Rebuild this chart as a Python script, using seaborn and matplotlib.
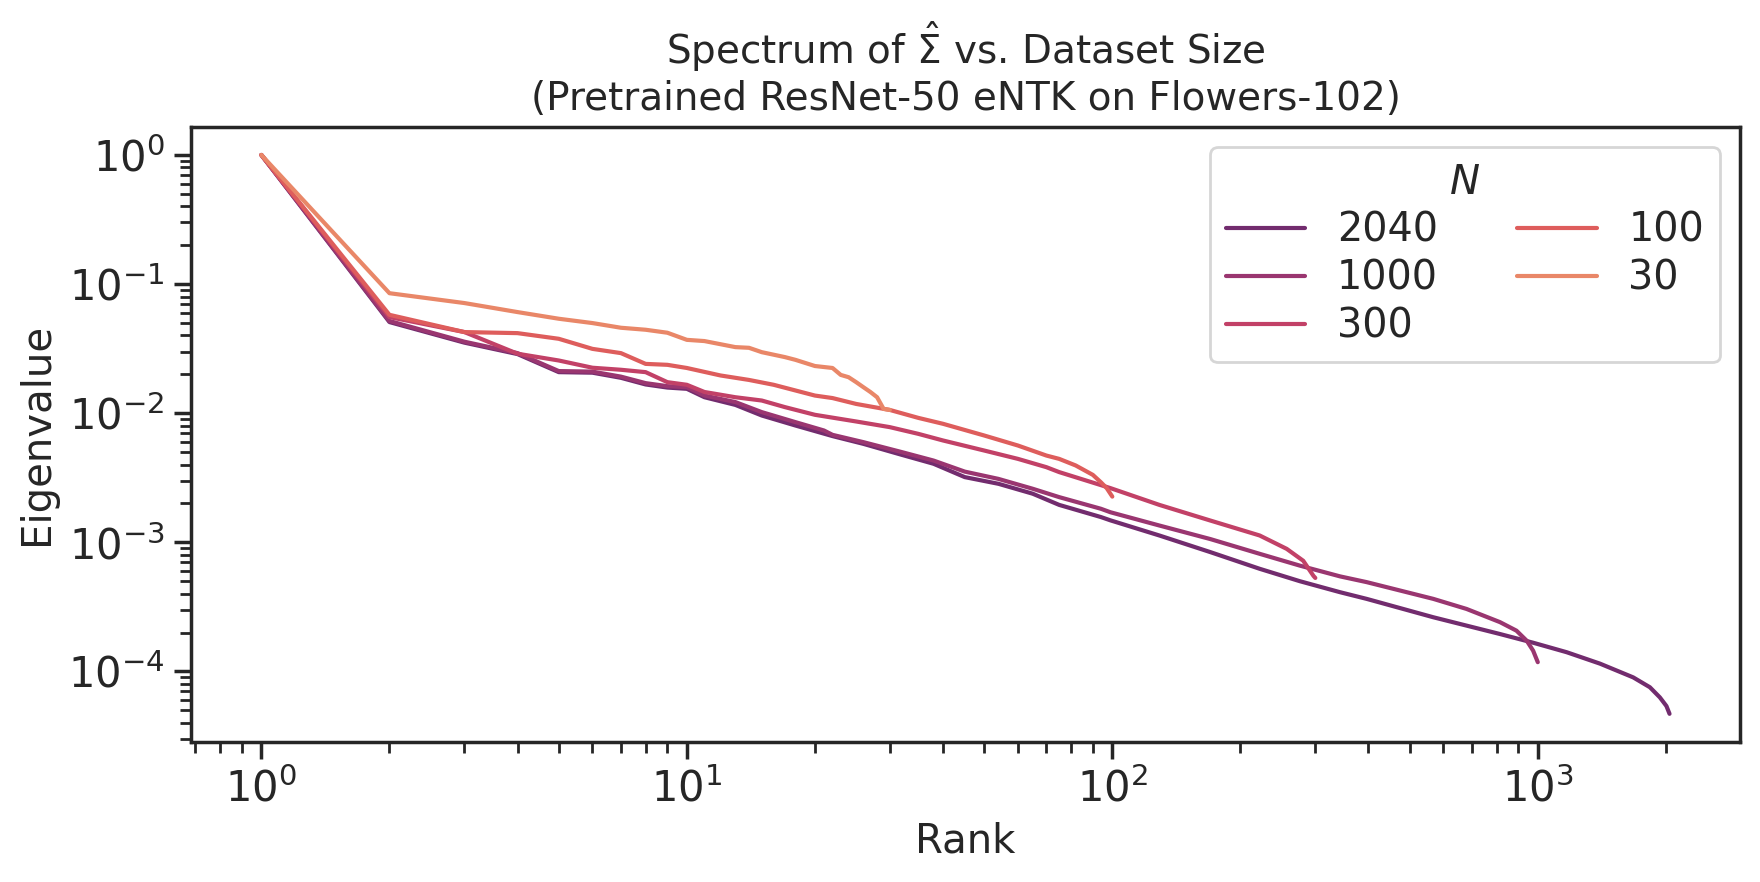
import matplotlib
matplotlib.use("Agg")
import matplotlib.pyplot as plt
import seaborn as sns
import pandas as pd

# eigenvalue spectra (normalised to the top eigenvalue)
ranks_2040 = [1, 2, 3, 4, 5, 6, 7, 8, 9, 10, 11, 13, 15, 18, 22, 26, 32, 38, 45, 54, 65, 75,
              94, 99, 129, 170, 222, 276, 343, 396, 568, 815, 975, 1169, 1400, 1676, 1834,
              1936, 2006, 2040]
eig_2040 = [1.0, 0.0508, 0.0352, 0.0287, 0.0208, 0.0206, 0.0188, 0.0167, 0.0158, 0.01545,
            0.0133, 0.0116, 0.0096, 0.00803, 0.00665, 0.00579, 0.00476, 0.00406, 0.0032,
            0.00284, 0.00238, 0.00195, 0.00157, 0.00148, 0.00113, 0.00084, 0.000624,
            0.0005, 0.000411, 0.000365, 0.000263, 0.000195, 0.000167, 0.000141, 0.000115,
            9.0e-05, 7.55e-05, 6.3e-05, 5.4e-05, 4.7e-05]

ranks_1000 = [1, 2, 3, 4, 5, 6, 7, 8, 9, 10, 11, 13, 15, 18, 21, 22, 26, 32, 38, 45, 54, 65,
              75, 94, 99, 129, 170, 222, 276, 343, 396, 568, 680, 815, 891, 942, 975, 1000]
eig_1000 = [1.0, 0.0518, 0.0358, 0.0292, 0.0212, 0.0210, 0.0192, 0.0171, 0.0162, 0.0159,
            0.0137, 0.0122, 0.0102, 0.00853, 0.00735, 0.0068, 0.00597, 0.0050, 0.0043,
            0.00353, 0.0031, 0.0026, 0.00224, 0.00182, 0.00171, 0.00135, 0.00106,
            0.000815, 0.00066, 0.000545, 0.000492, 0.000365, 0.000305, 0.000241,
            0.000207, 0.000173, 0.000145, 0.000118]

ranks_300 = [1, 2, 3, 4, 5, 6, 7, 8, 9, 10, 11, 13, 15, 17, 20, 25, 30, 35, 40, 50, 60, 70,
             75, 99, 129, 170, 222, 257, 281, 297, 300]
eig_300 = [1.0, 0.0555, 0.0425, 0.0289, 0.0256, 0.0225, 0.0217, 0.0208, 0.0174, 0.0166,
           0.0146, 0.0133, 0.01254, 0.01115, 0.00972, 0.00863, 0.0078, 0.00692, 0.00615,
           0.00514, 0.00443, 0.00382, 0.0035, 0.00263, 0.00195, 0.001475, 0.00113,
           0.00089, 0.00072, 0.00055, 0.00053]

ranks_100 = [1, 2, 3, 4, 5, 6, 7, 8, 9, 10, 12, 14, 16, 18, 20, 22, 25, 30, 35, 40, 50, 60,
             70, 75, 82, 90, 94, 97, 100]
eig_100 = [1.0, 0.0578, 0.0425, 0.0417, 0.0377, 0.0315, 0.0292, 0.0241, 0.0237, 0.0224,
           0.0196, 0.0181, 0.0166, 0.0150, 0.0137, 0.0131, 0.0118, 0.0106, 0.0092, 0.00828,
           0.00672, 0.00562, 0.0047, 0.00443, 0.00394, 0.00333, 0.00292, 0.00263, 0.00226]

ranks_30 = [1, 2, 3, 4, 5, 6, 7, 8, 9, 10, 11, 13, 14, 15, 17, 18, 20, 22, 23, 24, 25, 26,
            27, 28, 29, 30]
eig_30 = [1.0, 0.085, 0.0713, 0.0607, 0.0539, 0.0499, 0.0459, 0.0443, 0.042, 0.0370,
          0.0362, 0.0325, 0.0321, 0.0297, 0.0272, 0.0259, 0.0232, 0.0224, 0.0198, 0.0190,
          0.0174, 0.0159, 0.0146, 0.0133, 0.0108, 0.0106]

dataset_sizes = ["2040", "1000", "300", "100", "30"]
spectra = {
    "2040": (ranks_2040, eig_2040),
    "1000": (ranks_1000, eig_1000),
    "300": (ranks_300, eig_300),
    "100": (ranks_100, eig_100),
    "30": (ranks_30, eig_30),
}

frames = []
for n in dataset_sizes:
    r, ev = spectra[n]
    frames.append(pd.DataFrame({"Rank": r, "Eigenvalue": ev, "N": n}))
df = pd.concat(frames, ignore_index=True)

sns.set_theme(style="ticks", font_scale=1.2)

fig, ax = plt.subplots(figsize=(8.8, 4.41))
sns.lineplot(data=df, x="Rank", y="Eigenvalue", hue="N", hue_order=dataset_sizes,
             palette=sns.color_palette("flare_r", len(dataset_sizes)),
             estimator=None, ax=ax)
ax.set(xscale="log", yscale="log")
ax.set_title("Spectrum of $\\hat{\\Sigma}$ vs. Dataset Size\n"
             "(Pretrained ResNet-50 eNTK on Flowers-102)", fontsize=14)
ax.set_xlabel("Rank", fontsize=14.5)
ax.set_ylabel("Eigenvalue", fontsize=14.5)
ax.tick_params(labelsize=15)
ax.legend(title="$N$", ncol=2, loc="upper right", fontsize=14.3, title_fontsize=14.5,
          labelspacing=0.2)

fig.subplots_adjust(left=0.1085, right=0.9886, top=0.856, bottom=0.159)
plt.savefig("out.png", dpi=200)
